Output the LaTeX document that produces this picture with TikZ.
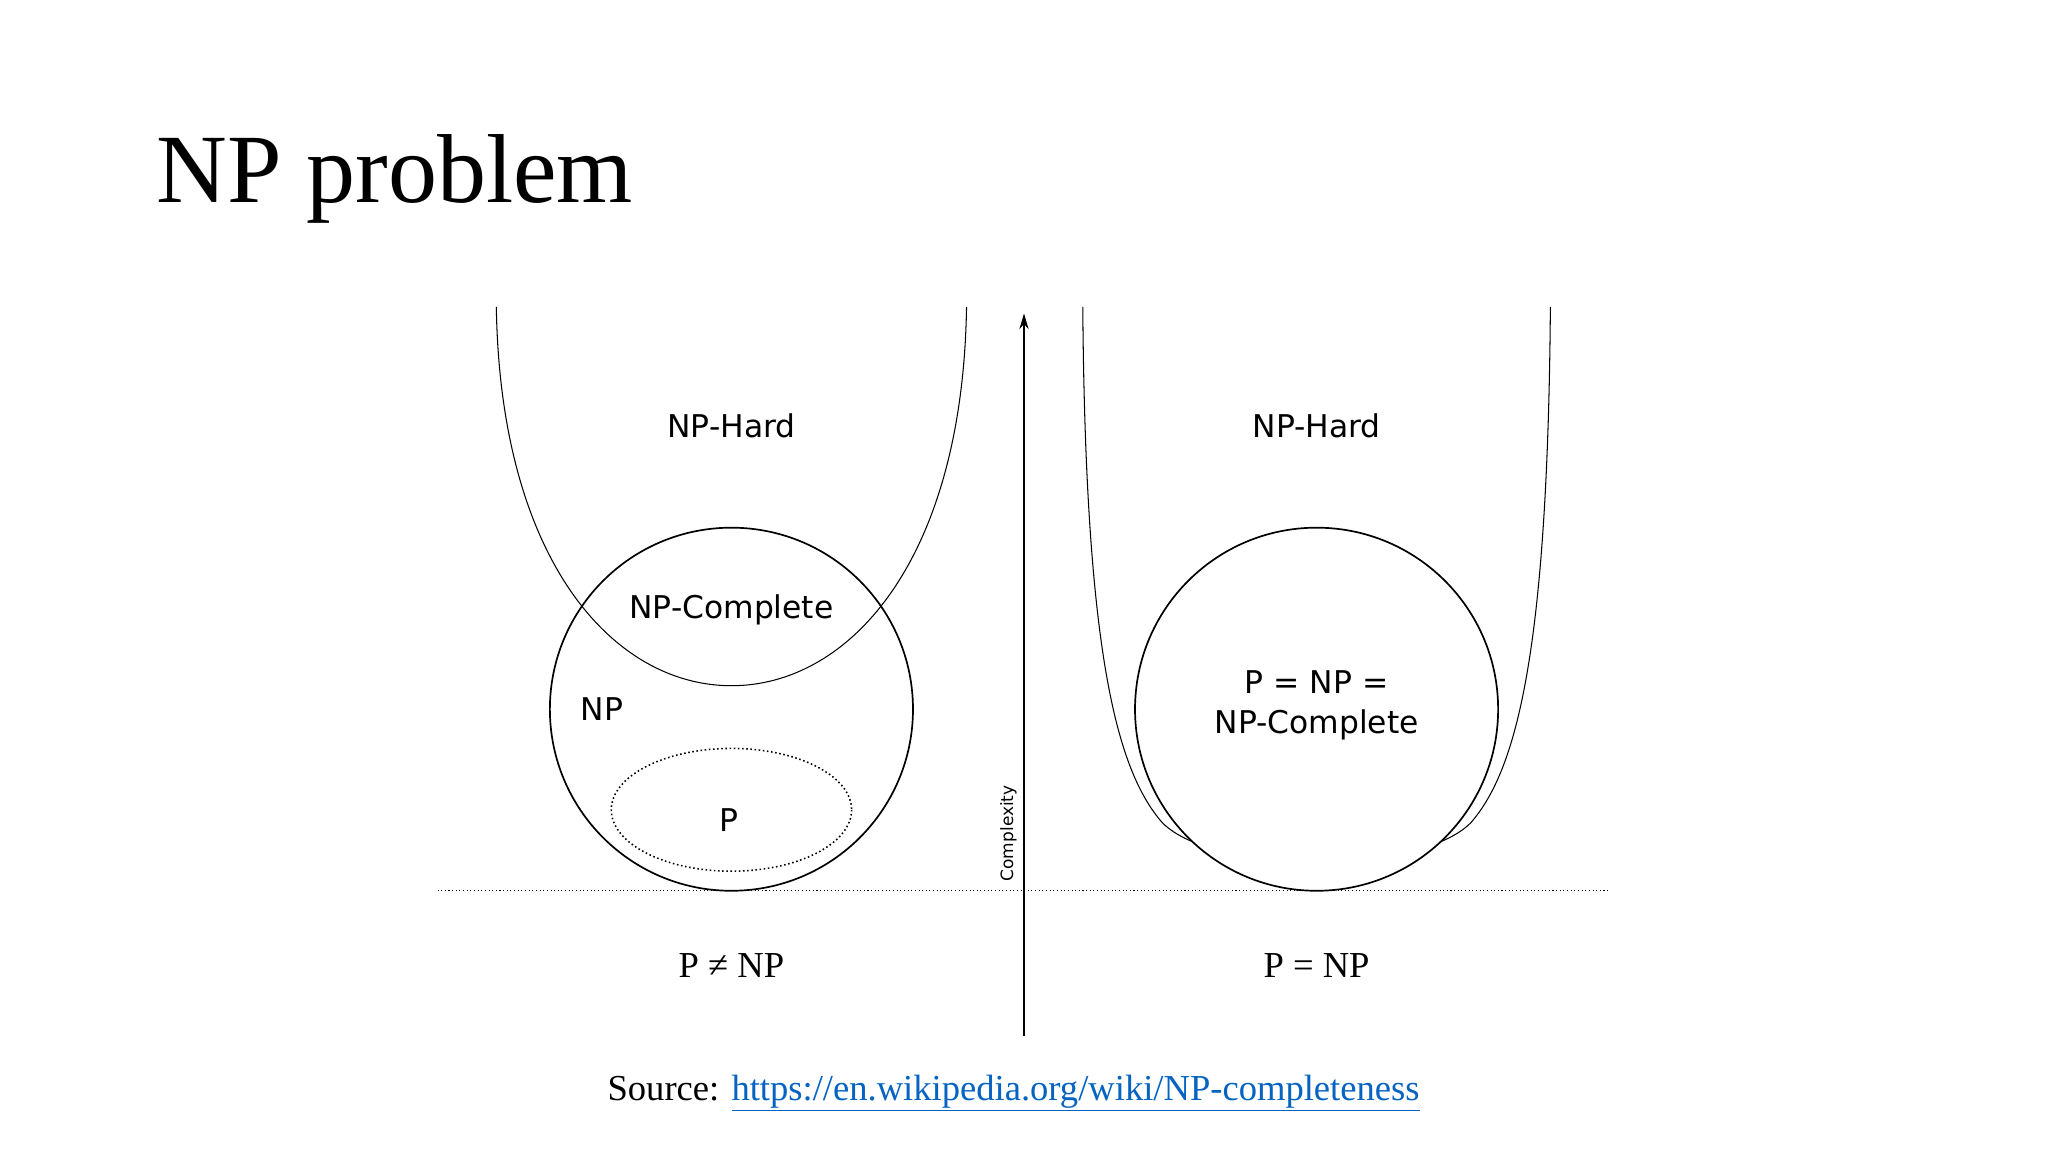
\documentclass[tikz,border=0pt]{standalone}
\usepackage{fontspec}
\setmainfont{Liberation Serif}
\newfontfamily\lbl{DejaVu Sans}
\usetikzlibrary{arrows.meta}
\definecolor{linkblue}{RGB}{5,99,193}
\begin{document}
\begin{tikzpicture}[x=1bp,y=-1bp,
  sanslbl/.style={font=\lbl\fontsize{24bp}{30bp}\selectfont,align=center},
  seriflbl/.style={font=\fontsize{28bp}{34bp}\selectfont},
  setline/.style={line width=0.8pt},
  circ/.style={line width=1.3pt}]
\useasboundingbox[fill=white] (0,0) rectangle (1568,882);
\node[anchor=base west,font=\fontsize{75bp}{80bp}\selectfont,inner sep=0] (title) at (120,155) {NP problem};
% left
\draw[setline] (380,235) .. controls (383,430) and (470,525) .. (560,525) .. controls (650,525) and (737,430) .. (740,235);
\node[circle,circ,draw,minimum size=278bp,inner sep=0] (npc) at (560,543) {};
\begin{scope}
\clip (560,543) circle (139);
\draw[dotted,line width=1.2pt] (560,620) ellipse (92 and 47);
\end{scope}
\node[sanslbl] (lhard) at (560,326) {NP-Hard};
\node[sanslbl] (lcomp) at (560,467) {NP-Complete};
\node[sanslbl] (lnp) at (461,543) {NP};
\node[sanslbl] (lp) at (558,628) {P};
% axis
\coordinate (ab) at (784,793);
\coordinate (at) at (784,240);
\draw[setline,-{Stealth[length=12bp,width=7bp]}] (ab) -- (at);
\node[font=\lbl\fontsize{13bp}{15bp}\selectfont,rotate=90] (cx) at (772,638) {Complexity};
\coordinate (d1) at (335,682);
\coordinate (d2) at (1232,682);
\draw[dotted,line width=0.8pt] (d1) -- (d2);
% right
\draw[setline] (829,235) .. controls (831,500) and (855,590) .. (890,630) .. controls (930,670) and (1086,670) .. (1126,630) .. controls (1161,590) and (1185,500) .. (1187,235);
\node[circle,circ,draw,fill=white,minimum size=278bp,inner sep=0] (rc) at (1008,543) {};
\node[sanslbl] (rhard) at (1008,326) {NP-Hard};
\node[sanslbl] (rtxt) at (1008,540) {P = NP =\\NP-Complete};
\node[seriflbl] (neq) at (560,739) {P ≠ NP};
\node[seriflbl] (eq) at (1008,739) {P = NP};
\node[font=\fontsize{28bp}{34bp}\selectfont] (src) at (776,837) {Source: \textcolor{linkblue}{\underline{https://en.wikipedia.org/wiki/NP-completeness}}};
\end{tikzpicture}
\end{document}
